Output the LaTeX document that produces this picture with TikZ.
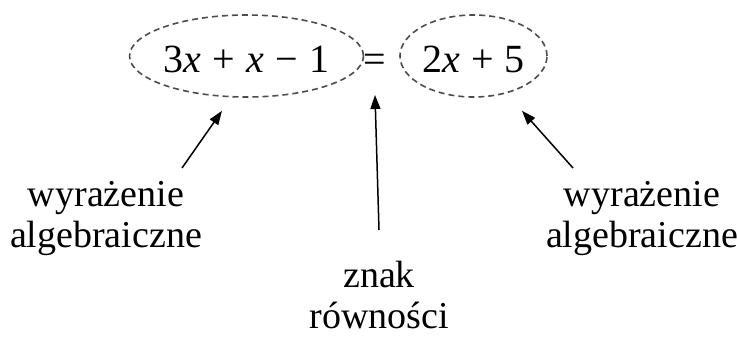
\RequirePackage{fix-cm}
\documentclass[tikz,border=0pt]{standalone}
\usepackage{fontspec}
\setmainfont{Liberation Serif}
\usetikzlibrary{arrows.meta,positioning,shapes.geometric}
\newcommand{\opsp}{\hspace{0.28em}}

\begin{document}
\begin{tikzpicture}[x=1bp,y=-1bp,>={Triangle[length=14bp,width=10bp]}]
\tikzstyle{oval}=[ellipse,draw=black!70,dash pattern=on 6bp off 4bp,line width=1.6bp,inner sep=0pt,minimum height=82bp,text height=34bp,text depth=2bp,font=\fontsize{40bp}{44bp}\selectfont]
\tikzstyle{relation}=[inner sep=0pt,text height=34bp,text depth=2bp,font=\fontsize{40bp}{44bp}\selectfont]
\tikzstyle{note}=[align=center,inner sep=0pt,font=\fontsize{38bp}{41bp}\selectfont]
\tikzstyle{pointer}=[->,line width=1.5bp]
\useasboundingbox (0,0) rectangle (737,336);
% equation
\node[oval,minimum width=206bp] (lhs) at (246.5,56) {3\textit{x}\opsp+\opsp\textit{x}\opsp−\opsp1};
\node[relation] (eq) at (375,56) {=};
\node[oval,minimum width=147bp] (rhs) at (473.5,56) {2\textit{x}\opsp+\opsp5\hspace{12bp}};
% labels
\node[note] (lexpr) at (106,219) {wyrażenie\\algebraiczne};
\node[note] (sign) at (379,295) {znak\\równości};
\node[note] (rexpr) at (642,219) {wyrażenie\\algebraiczne};
\coordinate (ltail) at (182,168);
\coordinate (mtail) at (379,230);
\coordinate (rtail) at (573,168);
\draw[pointer] (ltail) -- ([shift={(-24.5,13)}]lhs.south);
\draw[pointer] (mtail) -- ([yshift=-39bp]eq.center);
\draw[pointer] (rtail) -- ([shift={(48.5,13)}]rhs.south);
\end{tikzpicture}
\end{document}
